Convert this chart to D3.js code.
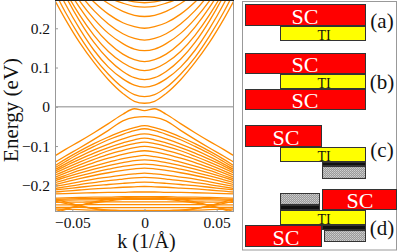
<!DOCTYPE html>
<html>
<head>
<meta charset="utf-8">
<script src="https://cdn.jsdelivr.net/npm/d3@7"></script>
<style>
  body { margin: 0; background: #fff; }
  svg { display: block; }
  svg text { font-family: "Liberation Serif", "Times New Roman", Times, serif; }
</style>
</head>
<body>
<div id="chart"></div>
<script>
// band structure (symmetric in k, only k >= 0 listed)
const kPts = [0, 0.007, 0.015, 0.025, 0.035, 0.045, 0.055, 0.065];

const conduction = [
  [0.009, 0.014, 0.034, 0.069, 0.113, 0.164, 0.224, 0.291],
  [0.026, 0.031, 0.049, 0.083, 0.126, 0.180, 0.242, 0.314],
  [0.050, 0.055, 0.071, 0.101, 0.144, 0.199, 0.263, 0.338],
  [0.069, 0.074, 0.090, 0.121, 0.164, 0.219, 0.284, 0.359],
  [0.092, 0.097, 0.112, 0.141, 0.182, 0.234, 0.296, 0.368],
  [0.115, 0.120, 0.134, 0.163, 0.203, 0.253, 0.313, 0.382],
  [0.143, 0.147, 0.161, 0.187, 0.224, 0.270, 0.325, 0.389],
  [0.170, 0.174, 0.186, 0.211, 0.245, 0.288, 0.340, 0.399],
  [0.200, 0.204, 0.214, 0.236, 0.267, 0.305, 0.350, 0.403],
  [0.230, 0.233, 0.243, 0.263, 0.290, 0.324, 0.365, 0.412],
  [0.254, 0.256, 0.264, 0.278, 0.298, 0.323, 0.353, 0.388],
  [0.265, 0.267, 0.274, 0.288, 0.305, 0.328, 0.355, 0.390]
];

const valence = [
  [-0.010, -0.005, -0.019, -0.043, -0.066, -0.088, -0.109, -0.132],
  [-0.025, -0.027, -0.036, -0.060, -0.083, -0.105, -0.126, -0.148],
  [-0.048, -0.053, -0.062, -0.077, -0.094, -0.113, -0.134, -0.157],
  [-0.056, -0.061, -0.070, -0.084, -0.101, -0.119, -0.140, -0.162],
  [-0.069, -0.073, -0.082, -0.095, -0.110, -0.127, -0.146, -0.166],
  [-0.080, -0.084, -0.092, -0.104, -0.118, -0.134, -0.151, -0.170],
  [-0.090, -0.094, -0.101, -0.112, -0.126, -0.141, -0.157, -0.174],
  [-0.101, -0.104, -0.111, -0.121, -0.134, -0.148, -0.163, -0.179],
  [-0.112, -0.115, -0.121, -0.131, -0.142, -0.155, -0.169, -0.184],
  [-0.124, -0.127, -0.132, -0.141, -0.151, -0.162, -0.175, -0.188],
  [-0.135, -0.137, -0.142, -0.150, -0.159, -0.169, -0.180, -0.192],
  [-0.146, -0.148, -0.152, -0.159, -0.167, -0.176, -0.186, -0.196],
  [-0.156, -0.158, -0.162, -0.168, -0.175, -0.183, -0.192, -0.201],
  [-0.169, -0.171, -0.174, -0.179, -0.184, -0.191, -0.198, -0.205],
  [-0.180, -0.181, -0.184, -0.188, -0.193, -0.198, -0.204, -0.210],
  [-0.192, -0.193, -0.195, -0.198, -0.201, -0.205, -0.209, -0.213],
  [-0.203, -0.204, -0.205, -0.207, -0.209, -0.212, -0.215, -0.218],
  [-0.217, -0.217, -0.218, -0.218, -0.219, -0.220, -0.221, -0.222]
];

// tangle of flat / crossing bands at the bottom
const deepBands = [
  [-0.229, -0.229, -0.229, -0.230, -0.230, -0.231, -0.232, -0.233],
  [-0.233, -0.233, -0.233, -0.233, -0.234, -0.234, -0.235, -0.236],
  [-0.236, -0.236, -0.236, -0.236, -0.237, -0.237, -0.238, -0.239],
  [-0.242, -0.242, -0.242, -0.242, -0.242, -0.243, -0.243, -0.244],
  [-0.249, -0.249, -0.249, -0.249, -0.249, -0.249, -0.250, -0.250],
  [-0.257, -0.257, -0.257, -0.257, -0.257, -0.256, -0.256, -0.256],
  [-0.264, -0.264, -0.264, -0.263, -0.263, -0.262, -0.261, -0.260],
  [-0.270, -0.270, -0.269, -0.266, -0.260, -0.252, -0.242, -0.232],
  [-0.266, -0.266, -0.265, -0.263, -0.259, -0.253, -0.246, -0.238],
  [-0.229, -0.230, -0.232, -0.236, -0.242, -0.251, -0.262, -0.275],
  [-0.233, -0.234, -0.236, -0.240, -0.245, -0.252, -0.260, -0.270]
];

const yTicks = [-0.2, -0.1, 0, 0.1, 0.2];
const yTickLabels = ["\u22120.2", "\u22120.1", "0", "0.1", "0.2"];
const xTicks = [-0.05, 0, 0.05];
const xTickLabels = ["\u22120.05", "0", "0.05"];

const panelLabels = ["(a)", "(b)", "(c)", "(d)"];

const width = 399, height = 252;
const plot = { left: 55, right: 234, top: 0, bottom: 212 };

const svg = d3.select("#chart").append("svg")
  .attr("width", width)
  .attr("height", height);

const xScale = d3.scaleLinear().domain([-0.062, 0.062]).range([plot.left, plot.right]);
const yScale = d3.scaleLinear().domain([-0.268, 0.272]).range([plot.bottom, plot.top]);

const defs = svg.append("defs");
defs.append("clipPath").attr("id", "plotClip")
  .append("rect")
  .attr("x", plot.left).attr("y", plot.top)
  .attr("width", plot.right - plot.left).attr("height", plot.bottom - plot.top);

// dotted grey texture for the normal-metal layers
const hatch = defs.append("pattern").attr("id", "hatch")
  .attr("width", 2).attr("height", 2).attr("patternUnits", "userSpaceOnUse");
hatch.append("rect").attr("width", 2).attr("height", 2).attr("fill", "#9a9a9a");
hatch.append("rect").attr("width", 1).attr("height", 1).attr("fill", "#cfcfcf");
hatch.append("rect").attr("x", 1).attr("y", 1).attr("width", 1).attr("height", 1).attr("fill", "#bdbdbd");

// mirror each band to negative k
function bandPoints(vals) {
  const pts = [];
  for (let i = kPts.length - 1; i > 0; i--) pts.push([-kPts[i], vals[i]]);
  for (let i = 0; i < kPts.length; i++) pts.push([kPts[i], vals[i]]);
  return pts;
}

const line = d3.line()
  .x(d => xScale(d[0]))
  .y(d => yScale(d[1]))
  .curve(d3.curveMonotoneX);

// zero line
svg.append("line")
  .attr("x1", plot.left).attr("x2", plot.right)
  .attr("y1", yScale(0)).attr("y2", yScale(0))
  .attr("stroke", "#b0b0b0").attr("stroke-width", 1.5);

const bands = svg.append("g").attr("clip-path", "url(#plotClip)");
bands.selectAll("path")
  .data(conduction.concat(valence, deepBands))
  .enter()
  .append("path")
  .attr("d", d => line(bandPoints(d)))
  .attr("fill", "none")
  .attr("stroke", "#ff8c00")
  .attr("stroke-width", 1.3);

// frame
svg.append("rect")
  .attr("x", plot.left + 0.5).attr("y", plot.top + 0.5)
  .attr("width", plot.right - plot.left - 1).attr("height", plot.bottom - plot.top - 1)
  .attr("fill", "none").attr("stroke", "#999");
svg.append("line")
  .attr("x1", plot.left).attr("x2", plot.right)
  .attr("y1", 0.5).attr("y2", 0.5)
  .attr("stroke", "#222");

// axes (ticks point inward)
const leftAxis = d3.axisLeft(yScale)
  .tickValues(yTicks)
  .tickSize(-3)
  .tickPadding(5)
  .tickFormat((d, i) => yTickLabels[i]);
const yAxisG = svg.append("g")
  .attr("transform", `translate(${plot.left},0)`)
  .call(leftAxis);

const bottomAxis = d3.axisBottom(xScale)
  .tickValues(xTicks)
  .tickSize(-3)
  .tickPadding(5)
  .tickFormat((d, i) => xTickLabels[i]);
const xAxisG = svg.append("g")
  .attr("transform", `translate(0,${plot.bottom})`)
  .call(bottomAxis);

[yAxisG, xAxisG].forEach(g => {
  g.select(".domain").remove();
  g.attr("font-family", null);
  g.selectAll(".tick line").attr("stroke", "#999");
  g.selectAll("text")
    .attr("font-size", 15.5)
    .attr("fill", "#111");
});

// axis titles
svg.append("text")
  .attr("transform", `translate(18,${yScale(-0.008)}) rotate(-90)`)
  .attr("text-anchor", "middle")
  .attr("font-size", 21)
  .attr("fill", "#111")
  .text("Energy (eV)");

svg.append("text")
  .attr("x", (plot.left + plot.right) / 2 + 2)
  .attr("y", 248)
  .attr("text-anchor", "middle")
  .attr("font-size", 20)
  .attr("fill", "#111")
  .text("k (1/\u00c5)");

// ---- schematic panel on the right ----
const panel = svg.append("g");
panel.append("rect")
  .attr("x", 242.5).attr("y", 1.5)
  .attr("width", 154).attr("height", 248.5)
  .attr("fill", "#fff").attr("stroke", "#999");

const c0 = 245, c1 = 280, c2 = 322, c3 = 366, c4 = 397;

function layer(x0, x1, y0, y1, fill) {
  panel.append("rect")
    .attr("x", x0 + 0.5).attr("y", y0 + 0.5)
    .attr("width", x1 - x0 - 1).attr("height", y1 - y0 - 1)
    .attr("fill", fill)
    .attr("stroke", "#333").attr("stroke-width", 1);
}
function label(x, y, txt, size, color) {
  panel.append("text")
    .attr("x", x).attr("y", y)
    .attr("text-anchor", "middle")
    .attr("font-size", size)
    .attr("fill", color)
    .text(txt);
}
function sc(x, y) { label(x, y, "SC", 22, "#fff"); }
function ti(x, y) { label(x, y, "TI", 14, "#111"); }

// (a)
layer(c0, c3, 4, 26, "#ff0000");
layer(c1, c3, 26, 41, "#ffff00");
sc(305, 24); ti(324, 39.5);

// (b)
layer(c0, c3, 53, 74, "#ff0000");
layer(c1, c3, 74, 89, "#ffff00");
layer(c0, c3, 89, 110, "#ff0000");
sc(305, 72); ti(324, 87.5); sc(305, 108);

// (c)
layer(c0, c2, 125, 147, "#ff0000");
layer(c1, c3, 147, 162, "#ffff00");
layer(c2, c3, 162, 166, "#111");
layer(c2, c3, 166, 179, "url(#hatch)");
sc(286, 145); ti(324, 160.5);

// (d)
layer(c1, 320, 193, 205, "url(#hatch)");
layer(c1, 320, 205, 210, "#111");
layer(c2, c4, 189, 210, "#ff0000");
layer(c1, c3, 210, 225, "#ffff00");
layer(c0, c2, 225, 247, "#ff0000");
layer(c2, c3, 225, 230, "#111");
layer(c2 + 2, c3, 230, 242, "url(#hatch)");
sc(360, 208); ti(324, 223.5); sc(286, 245);

const labelY = [28, 89, 157, 235];
panelLabels.forEach((t, i) => label(382, labelY[i], t, 21, "#111"));
</script>
</body>
</html>
